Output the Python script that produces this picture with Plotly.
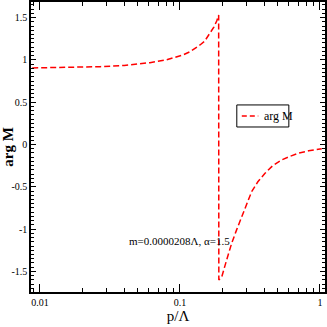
import plotly.graph_objects as go

# data
p_vals = [0.0088, 0.01, 0.015, 0.02, 0.027, 0.04, 0.061, 0.08, 0.092, 0.105, 0.118, 0.13, 0.139, 0.15,
          0.164, 0.175, 0.183, 0.189, 0.1895,
          0.199, 0.215, 0.234, 0.255, 0.276, 0.3, 0.325, 0.36, 0.405, 0.46, 0.532, 0.61, 0.70, 0.83, 0.973, 1.03]
argM = [0.905, 0.906, 0.908, 0.912, 0.92, 0.935, 0.967, 1.0, 1.026, 1.058, 1.097, 1.14, 1.176, 1.22,
        1.31, 1.39, 1.46, 1.53, -1.60,
        -1.563, -1.37, -1.168, -1.0, -0.853, -0.70, -0.558, -0.44, -0.34, -0.25, -0.183, -0.14, -0.104, -0.075, -0.057, -0.05]
x_ticks = [0.01, 0.1, 1]
x_tick_labels = ["0.01", "0.1", "1"]
y_ticks = [-1.5, -1, -0.5, 0, 0.5, 1, 1.5]
y_tick_labels = ["-1.5", "-1", "-0.5", "0", "0.5", "1", "1.5"]
x_minor = [m * 10 ** e for e in (-3, -2, -1, 0) for m in range(2, 10)]
annotation_text = "m=0.0000208Λ, α=1.5"
legend_label = "arg M"

SERIF = "Liberation Serif, Times New Roman, serif"

fig = go.Figure()
fig.add_trace(go.Scatter(x=p_vals, y=argM, mode="lines", name=legend_label,
                         line=dict(color="#ff0000", width=1.5, dash="6px,3px"),
                         showlegend=False))

# legend drawn manually (box, sample line, label)
fig.add_shape(type="rect", xref="paper", yref="paper", x0=0.70, x1=0.877, y0=0.569, y1=0.645,
              line=dict(color="black", width=1), fillcolor="white")
fig.add_shape(type="line", xref="paper", yref="paper", x0=0.717, x1=0.773, y0=0.607, y1=0.607,
              line=dict(color="#ff0000", width=1.5, dash="5px,3px"))
fig.add_annotation(xref="paper", yref="paper", x=0.787, y=0.607, text=legend_label, showarrow=False,
                   xanchor="left", yanchor="middle", font=dict(family=SERIF, size=12, color="black"))

fig.add_annotation(xref="paper", yref="paper", x=0.505, y=0.176, text=annotation_text, showarrow=False,
                   xanchor="center", yanchor="middle", font=dict(family=SERIF, size=11, color="black"))

fig.update_layout(
    width=327, height=327,
    margin=dict(l=31, r=2, t=2, b=35),
    plot_bgcolor="white", paper_bgcolor="white",
    font=dict(family=SERIF, size=10, color="black"),
)
fig.update_xaxes(type="log", range=[-2.064, 0.036], tickvals=x_ticks, ticktext=x_tick_labels,
                 ticks="inside", ticklen=8, tickwidth=1, tickcolor="black",
                 minor=dict(tickvals=x_minor, ticks="inside", ticklen=4, tickcolor="black", showgrid=False),
                 showline=True, linecolor="black", linewidth=1.5, mirror="ticks",
                 showgrid=False, zeroline=False, automargin=False,
                 title=dict(text="p/Λ", font=dict(family=SERIF, size=15), standoff=2),
                 tickfont=dict(family=SERIF, size=10))
fig.update_yaxes(range=[-1.743, 1.684], tickvals=y_ticks, ticktext=y_tick_labels,
                 ticks="inside", ticklen=5, tickwidth=1, tickcolor="black",
                 minor=dict(dtick=0.05, tick0=0, ticks="inside", ticklen=3, tickcolor="black", showgrid=False),
                 showline=True, linecolor="black", linewidth=1.5, mirror="ticks",
                 showgrid=False, zeroline=False, automargin=False,
                 title=dict(text="<b>arg M</b>", font=dict(family=SERIF, size=15), standoff=2),
                 tickfont=dict(family=SERIF, size=10))

fig.write_html("out.html", config={"displayModeBar": False},
               post_script="document.body.style.margin='0px';document.body.style.overflow='hidden';")
